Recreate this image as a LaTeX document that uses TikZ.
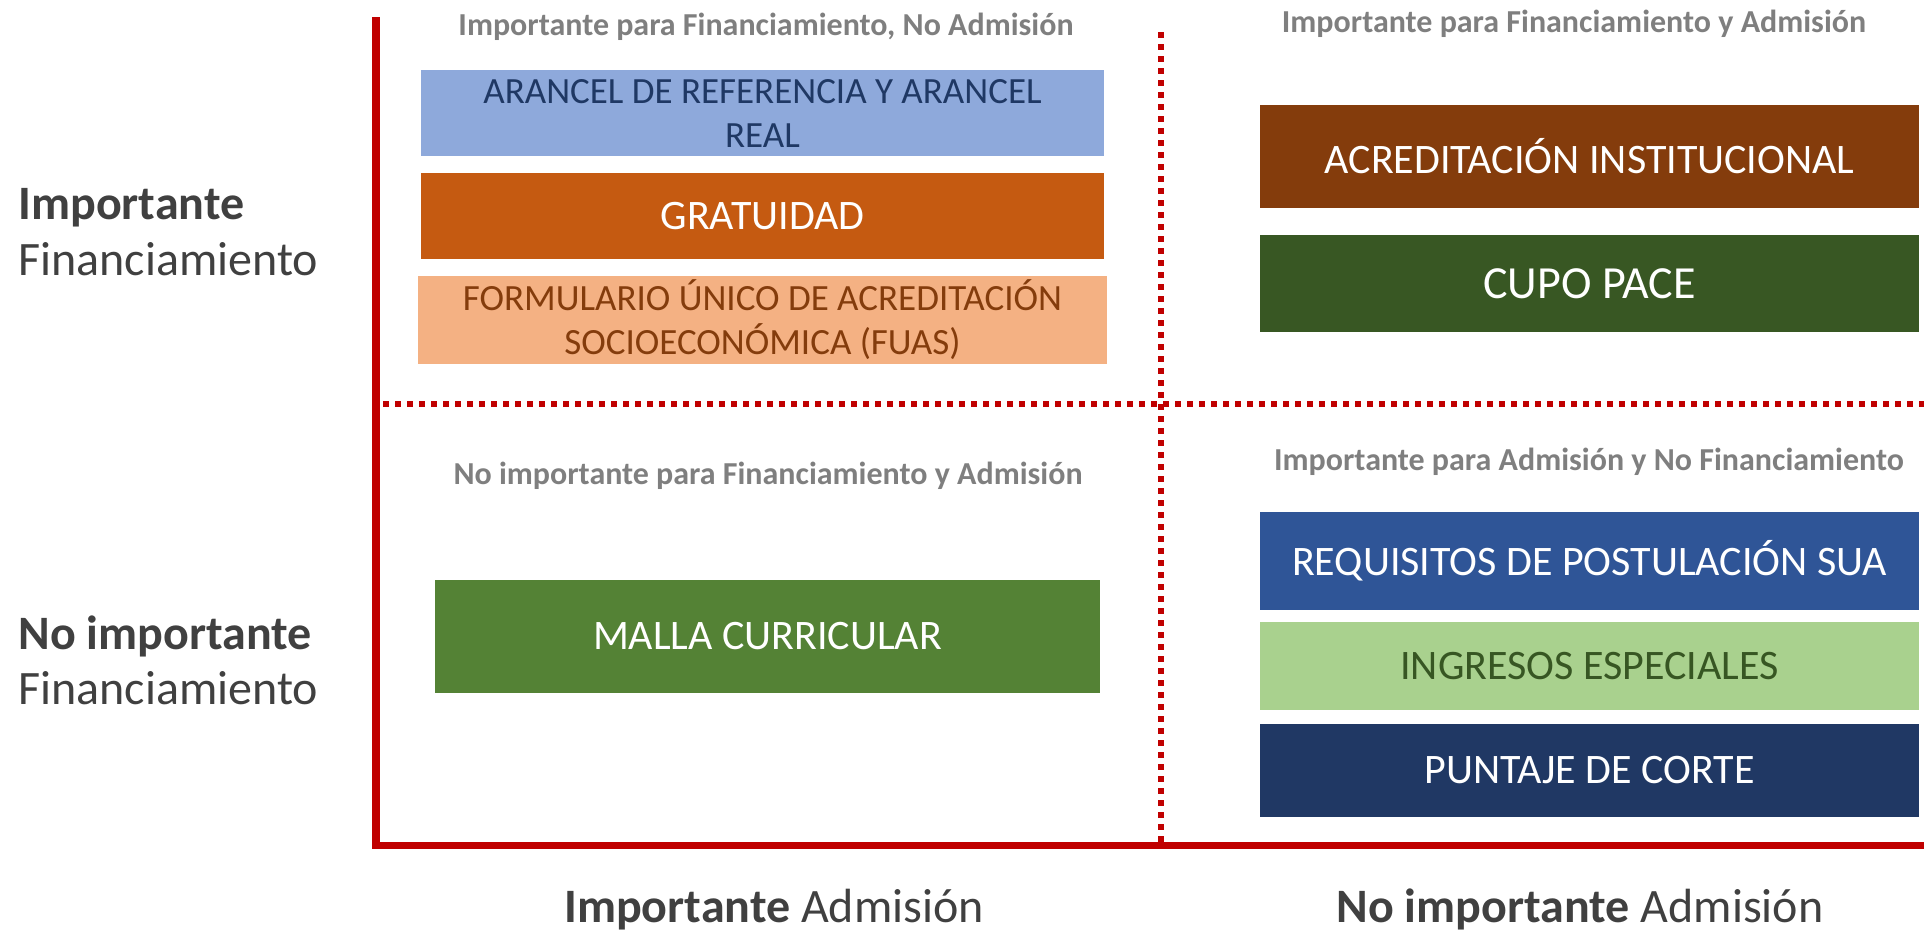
\documentclass[tikz,border=0pt]{standalone}
\usepackage{fontspec}
\setmainfont{Carlito}
\definecolor{axisred}{HTML}{C00000}
\definecolor{titlegray}{HTML}{7F7F7F}
\definecolor{labelgray}{HTML}{404040}
\definecolor{arancelblue}{HTML}{8EA9DB}
\definecolor{arancelnavy}{HTML}{1F3864}
\definecolor{gratuidadorange}{HTML}{C55A11}
\definecolor{fuaspeach}{HTML}{F4B183}
\definecolor{fuasbrown}{HTML}{843C0C}
\definecolor{acredbrown}{HTML}{843C0C}
\definecolor{cupogreen}{HTML}{385723}
\definecolor{mallagreen}{HTML}{548235}
\definecolor{requisitosblue}{HTML}{2F5597}
\definecolor{ingresosgreen}{HTML}{A9D18E}
\definecolor{ingresosdark}{HTML}{375623}
\definecolor{puntajenavy}{HTML}{203864}
\begin{document}
\begin{tikzpicture}[x=0.5pt,y=-0.5pt,
		box/.style={rectangle,inner sep=0pt,align=center,text=white,font=\fontsize{21}{25}\selectfont},
		smallbox/.style={box,font=\fontsize{18.5}{22}\selectfont},
		quadtitle/.style={anchor=base,inner sep=0pt,text=titlegray,font=\bfseries\fontsize{16}{19}\selectfont},
		axislabel/.style={inner sep=0pt,text=labelgray,font=\fontsize{24}{27.75}\selectfont},
		axisline/.style={axisred,line width=3.75pt},
		divider/.style={axisred,line width=3pt,dash pattern=on 3pt off 3pt}]
	\useasboundingbox (0,0) rectangle (1924,932);
	\coordinate (ytop) at (376,17);
	\coordinate (origin) at (376,845.5);
	\coordinate (xend) at (1924,845.5);
	\coordinate (vtop) at (1161,32);
	\coordinate (vbot) at (1161,842);
	\coordinate (hleft) at (383,404);
	\coordinate (hright) at (1924,404);
	\draw [divider] (vtop) -- (vbot);
	\draw [divider] (hleft) -- (hright);
	\draw [axisline] (ytop) -- (origin) -- (xend);
	\node [quadtitle] (tfin) at (766,35) {Importante para Financiamiento, No Admisión};
	\node [quadtitle] (tambos) at (1574,32) {Importante para Financiamiento y Admisión};
	\node [quadtitle] (tninguno) at (768,484) {No importante para Financiamiento y Admisión};
	\node [quadtitle] (tadm) at (1589,470) {Importante para Admisión y No Financiamiento};
	\node [smallbox,fill=arancelblue,text=arancelnavy,minimum width=341.5pt,minimum height=43pt] (arancel) at (762.5,113) {ARANCEL DE REFERENCIA Y ARANCEL\\REAL};
	\node [box,fill=gratuidadorange,minimum width=341.5pt,minimum height=43pt] (gratuidad) at (762.5,216) {GRATUIDAD};
	\node [smallbox,fill=fuaspeach,text=fuasbrown,minimum width=344.5pt,minimum height=44pt] (fuas) at (762.5,320) {FORMULARIO ÚNICO DE ACREDITACIÓN\\SOCIOECONÓMICA (FUAS)};
	\node [box,fill=acredbrown,minimum width=329.5pt,minimum height=51.5pt] (acreditacion) at (1589.5,156.5) {ACREDITACIÓN INSTITUCIONAL};
	\node [box,fill=cupogreen,minimum width=329.5pt,minimum height=48.5pt,font=\fontsize{23}{27}\selectfont] (cupo) at (1589.5,283.5) {CUPO PACE};
	\node [box,fill=mallagreen,minimum width=332.5pt,minimum height=56.5pt] (malla) at (767.5,636.5) {MALLA CURRICULAR};
	\node [box,fill=requisitosblue,minimum width=329.5pt,minimum height=49pt] (requisitos) at (1589.5,561) {REQUISITOS DE POSTULACIÓN SUA};
	\node [box,fill=ingresosgreen,text=ingresosdark,minimum width=329.5pt,minimum height=44pt] (ingresos) at (1589.5,666) {INGRESOS ESPECIALES};
	\node [box,fill=puntajenavy,minimum width=329.5pt,minimum height=46.5pt] (puntaje) at (1589.5,770.5) {PUNTAJE DE CORTE};
	\node [axislabel,anchor=north west,align=left] (finsi) at (18,188) {\textbf{Importante}\\Financiamiento};
	\node [axislabel,anchor=north west,align=left] (finno) at (18,615) {\textbf{No importante}\\Financiamiento};
	\node [axislabel,anchor=base] (admsi) at (774,922) {\textbf{Importante} Admisión};
	\node [axislabel,anchor=base] (admno) at (1580,922) {\textbf{No importante} Admisión};
\end{tikzpicture}
\end{document}
